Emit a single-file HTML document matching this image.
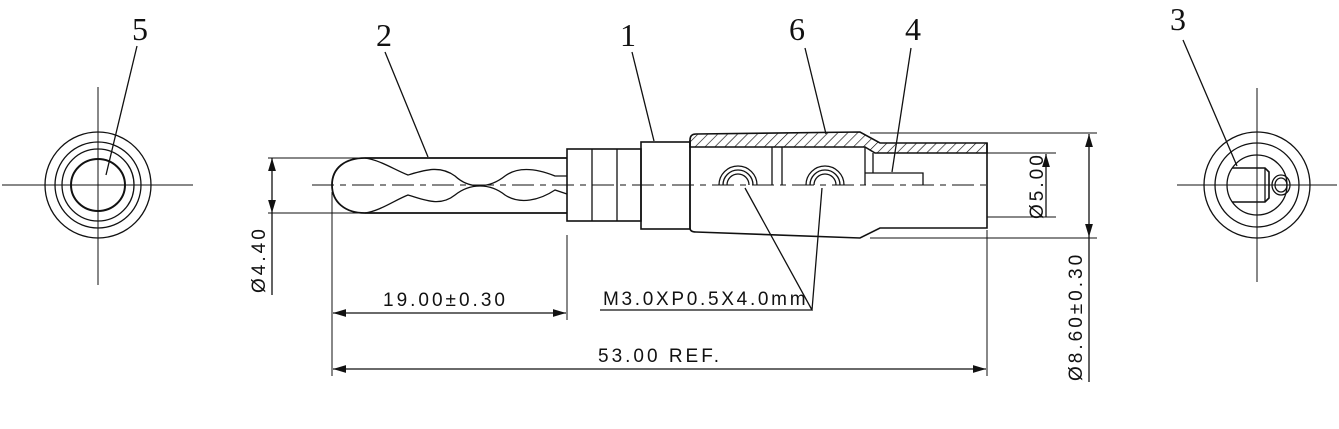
<!DOCTYPE html><html><head><style>body{margin:0;background:#fff}svg{display:block}</style></head><body>
<svg width="1339" height="429" viewBox="0 0 1339 429" xmlns="http://www.w3.org/2000/svg" fill="none" stroke="#111" stroke-width="1.3">
<defs><pattern id="h" width="7" height="7" patternUnits="userSpaceOnUse" patternTransform="rotate(45)"><line x1="0" y1="0" x2="0" y2="7" stroke="#111" stroke-width="1.3"/></pattern>
<marker id="a" viewBox="0 0 10 6" refX="10" refY="3" markerWidth="10" markerHeight="6" orient="auto-start-reverse"><path d="M0,0L10,3L0,6z" fill="#111" stroke="none"/></marker></defs>
<g font-family="Liberation Serif,serif" font-size="32" fill="#111" stroke="none">
<text x="132" y="40" transform="scale(1,1)">5</text><text x="376" y="46">2</text><text x="620" y="46">1</text><text x="789" y="40">6</text><text x="905" y="40">4</text><text x="1170" y="30">3</text></g>
<!-- leaders -->
<path d="M137 46L106 175M385 52L428 157M632 52L654 141M805 48L826 134M911 48L892 172M1183 40L1237 166"/>
<!-- left view -->
<path d="M2 185H193M98 87V285" stroke-width="1"/>
<circle cx="98" cy="185" r="53"/><circle cx="98" cy="185" r="43"/><circle cx="98" cy="185" r="36"/>
<ellipse cx="98" cy="185" rx="27" ry="26" stroke-width="2"/>
<!-- right view -->
<path d="M1177 185H1337M1257 88V282" stroke-width="1"/>
<circle cx="1257" cy="185" r="53"/><circle cx="1257" cy="185" r="42"/><circle cx="1257" cy="185" r="30"/>
<path d="M1232 168H1265L1269 172V198L1265 202H1232" stroke-width="1.6"/><path d="M1265 168V202"/>
<ellipse cx="1281" cy="185" rx="9" ry="10"/><ellipse cx="1281" cy="185" rx="6" ry="7"/>
<!-- pin -->
<path d="M268 158H567M268 213H567" stroke-width="1"/>
<path d="M312 185H990" stroke-width="1" stroke-dasharray="22 6 6 6"/>
<path d="M567 158H365C345 158 332 168 332 185C332 202 345 213 365 213H567" stroke-width="1.8"/>
<path d="M365 158C380 160 395 170 408 175C425 170 440 165 455 176C470 190 490 188 505 176C520 165 540 170 555 176L567 176" />
<path d="M365 213C380 211 395 200 408 195C425 200 440 207 455 195C470 183 490 183 505 195C520 205 540 200 555 190L567 194"/>
<!-- collar -->
<rect x="567" y="149" width="74" height="72" stroke-width="1.6"/><path d="M592 149V221M617 149V221"/>
<rect x="641" y="142" width="49" height="87" stroke-width="1.6"/>
<!-- body -->
<path d="M690 140Q690 134 696 134L860 132L880 143H987V153H875L865 147H690Z" fill="url(#h)" stroke-width="1.6"/>
<path d="M690 140V228Q690 232 696 232L860 238L880 228H987V143" stroke-width="1.6"/>
<path d="M772 147V185M782 147V185M865 147V185M873 153V173M865 173H923V185"/>
<g><path d="M719 185A19 19 0 0 1 757 185M723 185A15 15 0 0 1 753 185M727 185A11 11 0 0 1 749 185"/>
<path d="M806 185A19 19 0 0 1 844 185M810 185A15 15 0 0 1 840 185M814 185A11 11 0 0 1 836 185"/></g>
<!-- dims -->
<path d="M987 153H1056M987 217H1056M870 133H1097M870 238H1097" stroke-width="1"/>
<path d="M1046 217V154" marker-end="url(#a)"/>
<path d="M1089 134V237" marker-start="url(#a)" marker-end="url(#a)"/><path d="M1089 237V382"/>
<path d="M272 158V213" marker-start="url(#a)" marker-end="url(#a)"/><path d="M272 213V295"/>
<path d="M332 192V376M567 235V320M987 230V376" stroke-width="1"/>
<path d="M333 313H566" marker-start="url(#a)" marker-end="url(#a)"/>
<path d="M333 369H986" marker-start="url(#a)" marker-end="url(#a)"/>
<path d="M600 310H812L745 188M812 310L822 188"/>
<g font-family="Liberation Sans,sans-serif" font-size="19" fill="#111" stroke="none" letter-spacing="3">
<text x="383" y="306">19.00±0.30</text>
<text x="603" y="305" letter-spacing="2.7">M3.0XP0.5X4.0mm</text>
<text x="598" y="362">53.00 REF.</text>
<text transform="translate(265,293) rotate(-90)">Ø4.40</text>
<text transform="translate(1043,219) rotate(-90)">Ø5.00</text>
<text transform="translate(1082,381) rotate(-90)">Ø8.60±0.30</text>
</g>
</svg></body></html>
